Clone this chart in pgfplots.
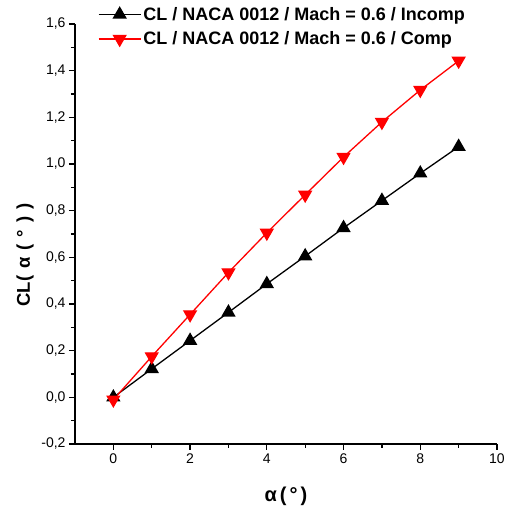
\documentclass[border=0pt]{standalone}
\usepackage{fontspec}
\setmainfont{Liberation Sans}
\usepackage{pgfplots}
\pgfplotsset{compat=1.18}
\usetikzlibrary{plotmarks}

\begin{document}
\begin{tikzpicture}
\begin{axis}[
  scale only axis,
  width=422pt, height=420pt,
  xmin=-1, xmax=10, ymin=-0.2, ymax=1.6,
  axis x line*=bottom, axis y line*=left,
  axis line style={line width=1.5pt},
  xtick={0,2,...,10}, ytick={-0.2,0,...,1.6},
  minor x tick num=1, minor y tick num=1,
  tick align=outside,
  major tick length=6pt, minor tick length=4pt,
  every tick/.style={line width=1.3pt, black},
  tick label style={font=\fontsize{14}{16}\selectfont},
  /pgf/number format/assume math mode=true,
  yticklabel style={/pgf/number format/.cd, fixed, fixed zerofill, precision=1, use comma},
  xticklabel style={/pgf/number format/.cd, fixed, precision=0},
  xlabel={\bfseries α\hspace{3pt}(\hspace{3pt}°\hspace{3pt})},
  ylabel={\bfseries CL(\hspace{7pt}α\hspace{7pt}(\hspace{7pt}°\hspace{7pt})\hspace{7pt})},
  every axis x label/.style={at={(axis description cs:0.5,-0.124)}, anchor=center,
    font=\fontsize{20}{23}\selectfont},
  every axis y label/.style={at={(axis description cs:-0.1185,0.45)}, anchor=center,
    rotate=90, font=\fontsize{18.5}{21}\selectfont},
  legend style={draw=none, fill=none, at={(0.047,1.05)}, anchor=north west,
    font=\fontsize{18}{21}\selectfont\bfseries, row sep=6pt,
    /tikz/every even column/.append style={column sep=2pt}},
  legend cell align=left,
  legend image code/.code={\draw[mark repeat=2,mark phase=2,#1]
    plot coordinates {(0pt,0pt) (21pt,0pt) (42pt,0pt)};},
  clip=false,
]
\addplot[black, line width=1.3pt, mark=triangle*, mark size=7pt,
  mark options={solid, fill=black}] coordinates {
  (0,0.0) (1,0.122) (2,0.243) (3,0.364) (4,0.486) (5,0.605)
  (6,0.726) (7,0.843) (8,0.960) (9,1.074)
};
\addlegendentry{CL / NACA 0012 / Mach = 0.6 / Incomp}
\addplot[red, line width=1.3pt, mark=triangle*, mark size=7pt,
  mark options={solid, fill=red, rotate=180}] coordinates {
  (0,-0.01) (1,0.175) (2,0.355) (3,0.535) (4,0.705) (5,0.868)
  (6,1.03) (7,1.18) (8,1.317) (9,1.442)
};
\addlegendentry{CL / NACA 0012 / Mach = 0.6 / Comp}
\coordinate (sw) at (rel axis cs:0,0);
\coordinate (ne) at (rel axis cs:1,1);
\end{axis}
\pgfresetboundingbox
\path ([xshift=-75pt,yshift=-67pt]sw) rectangle ([xshift=15pt,yshift=24pt]ne);
\end{tikzpicture}
\end{document}
